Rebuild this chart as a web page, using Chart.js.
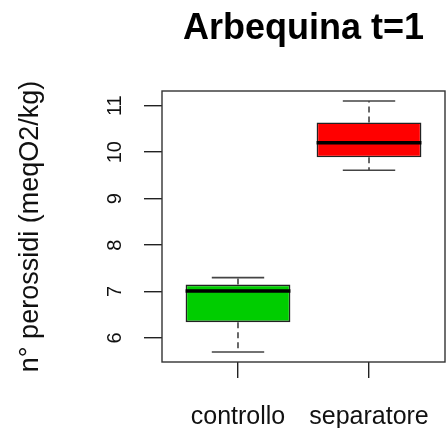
<!DOCTYPE html>
<html>
<head>
<meta charset="utf-8">
<script src="https://cdn.jsdelivr.net/npm/chart.js@4.4.0/dist/chart.umd.min.js"></script>
<style>
  html, body { margin: 0; padding: 0; background: #fff; }
  #wrap { width: 446px; height: 428px; }
</style>
</head>
<body>
<div id="wrap"><canvas id="box-chart"></canvas></div>
<script>
const categories = ['controllo', 'separatore'];
const whiskerLow = [5.70, 9.61];
const q1 = [6.34, 9.89];
const medians = [7.01, 10.20];
const q3 = [7.15, 10.64];
const whiskerHigh = [7.30, 11.10];
const boxColors = ['#00cd00', '#ff0000'];
const yTicks = [6, 7, 8, 9, 10, 11];

const FONT = '"Liberation Sans", Arial, Helvetica, sans-serif';
const INK = '#222';
const WHISKER = '#444';

// R-style limits: 4% extension on each side
const lo = Math.min(...whiskerLow), hi = Math.max(...whiskerHigh);
const yPad = (hi - lo) * 0.04;
const xPad = categories.length * 0.04;

// median line, dashed whiskers, staples and the box around the plot
const boxPlot = {
  id: 'boxPlot',
  afterDatasetsDraw(chart) {
    const {ctx, chartArea, scales: {x, y}} = chart;
    const bars = chart.getDatasetMeta(0).data;
    ctx.save();
    bars.forEach((bar, i) => {
      const cx = x.getPixelForValue(i + 1);
      const half = bar.width / 2;
      const cap = half / 2;
      ctx.strokeStyle = WHISKER;
      ctx.lineWidth = 1.6;
      ctx.setLineDash([6, 4]);
      ctx.beginPath();
      ctx.moveTo(cx, y.getPixelForValue(q3[i]));
      ctx.lineTo(cx, y.getPixelForValue(whiskerHigh[i]));
      ctx.moveTo(cx, y.getPixelForValue(q1[i]));
      ctx.lineTo(cx, y.getPixelForValue(whiskerLow[i]));
      ctx.stroke();
      ctx.setLineDash([]);
      ctx.beginPath();
      [whiskerHigh[i], whiskerLow[i]].forEach(v => {
        const py = y.getPixelForValue(v);
        ctx.moveTo(cx - cap, py);
        ctx.lineTo(cx + cap, py);
      });
      ctx.stroke();
      const my = y.getPixelForValue(medians[i]);
      ctx.lineWidth = 3.5;
      ctx.strokeStyle = '#000';
      ctx.beginPath();
      ctx.moveTo(cx - half, my);
      ctx.lineTo(cx + half, my);
      ctx.stroke();
    });
    ctx.lineWidth = 1.4;
    ctx.strokeStyle = '#333';
    ctx.strokeRect(chartArea.left, chartArea.top,
      chartArea.right - chartArea.left, chartArea.bottom - chartArea.top);
    ctx.restore();
  }
};

new Chart(document.getElementById('box-chart'), {
  type: 'bar',
  data: {
    datasets: [{
      data: categories.map((c, i) => ({x: i + 1, y: [q1[i], q3[i]]})),
      backgroundColor: boxColors,
      borderColor: INK,
      borderWidth: 1.6,
      borderSkipped: false,
      categoryPercentage: 1,
      barPercentage: 0.8
    }]
  },
  options: {
    responsive: true,
    maintainAspectRatio: false,
    animation: false,
    layout: {padding: {left: 0, right: 1, top: 0, bottom: 0}},
    plugins: {
      legend: {display: false},
      tooltip: {enabled: false},
      title: {
        display: true,
        text: 'Arbequina t=1',
        fullSize: false,
        color: '#000',
        font: {family: FONT, size: 36, weight: 'bold', lineHeight: 1.2},
        padding: {top: 7, bottom: 40.8}
      }
    },
    scales: {
      x: {
        type: 'linear',
        offset: false,
        min: 0.5 - xPad,
        max: categories.length + 0.5 + xPad,
        afterBuildTicks: s => { s.ticks = categories.map((c, i) => ({value: i + 1})); },
        afterFit: s => { s.height = 66; s.paddingLeft = 0; s.paddingRight = 0; },
        ticks: {
          callback: v => categories[v - 1],
          font: {family: FONT, size: 25},
          color: '#111',
          padding: 24,
          maxRotation: 0,
          autoSkip: false
        },
        grid: {offset: false, drawOnChartArea: false, tickLength: 16, color: INK, lineWidth: 1.4},
        border: {display: false}
      },
      y: {
        type: 'linear',
        min: lo - yPad,
        max: hi + yPad,
        afterBuildTicks: s => { s.ticks = yTicks.map(v => ({value: v})); },
        afterFit: s => { s.width = 162; s.paddingTop = 0; s.paddingBottom = 0; },
        ticks: {
          font: {family: FONT, size: 20},
          color: '#111',
          minRotation: 90,
          maxRotation: 90,
          crossAlign: 'center',
          padding: 17
        },
        grid: {drawOnChartArea: false, tickLength: 18, color: INK, lineWidth: 1.4},
        border: {display: false},
        title: {
          display: true,
          text: 'n° perossidi (meqO2/kg)',
          color: '#111',
          font: {family: FONT, size: 27, lineHeight: 1.2},
          padding: {top: 14, bottom: 0}
        }
      }
    }
  },
  plugins: [boxPlot]
});
</script>
</body>
</html>
